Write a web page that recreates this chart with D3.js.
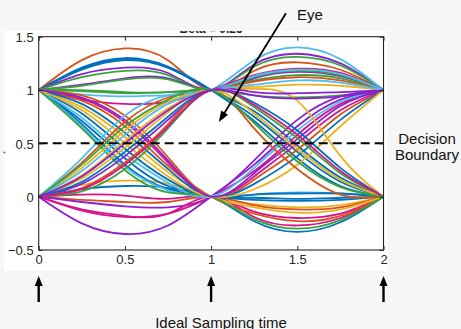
<!DOCTYPE html>
<html>
<head>
<meta charset="utf-8">
<script src="https://cdn.jsdelivr.net/npm/d3@7"></script>
<style>
  body { margin: 0; background: #f6f6f6; }
  svg { display: block; }
  text { font-family: "Liberation Sans", Arial, Helvetica, sans-serif; }
</style>
</head>
<body>
<div id="chart"></div>
<script>
/* sample instants of each trace (two symbol periods) */
var timeSteps = [0, 0.25, 0.5, 0.75, 1, 1.25, 1.5, 1.75, 2];

/* eye traces, one row per sweep */
var traceValues = [
  [1, 1.28, 1.39, 1.28, 1, 1.18, 1.26, 1.19, 1],
  [1, 1.21, 1.30, 1.22, 1, 0.71, 0.36, 0.10, 0],
  [1, 1.20, 1.29, 1.21, 1, 0.75, 0.42, 0.14, 0],
  [1, 1.19, 1.28, 1.21, 1, 0.80, 0.48, 0.18, 0],
  [1, 1.15, 1.21, 1.16, 1, 1.24, 1.34, 1.25, 1],
  [1, 1.12, 1.18, 1.14, 1, 1.22, 1.31, 1.23, 1],
  [1, 1.05, 1.11, 1.11, 1, 1.11, 1.17, 1.13, 1],
  [1, 1.04, 1.10, 1.10, 1, 1.12, 1.18, 1.14, 1],
  [1, 1.00, 0.98, 0.98, 1, 0.95, 0.93, 0.95, 1],
  [1, 0.99, 0.97, 0.98, 1, 1.09, 1.14, 1.11, 1],
  [1, 0.96, 0.94, 0.95, 1, 1.28, 1.40, 1.29, 1],
  [1, 0.91, 0.87, 0.89, 1, 1.14, 1.20, 1.16, 1],
  [0, 0.11, 0.15, 0.12, 0, -0.07, -0.10, -0.08, 0],
  [0, 0.07, 0.10, 0.08, 0, -0.01, -0.02, -0.01, 0],
  [0, 0.02, 0.01, -0.02, 0, -0.14, -0.20, -0.16, 0],
  [0, -0.03, -0.05, -0.05, 0, -0.08, -0.12, -0.10, 0],
  [0, -0.05, -0.09, -0.10, 0, 0.34, 0.72, 0.94, 1],
  [0, -0.12, -0.18, -0.16, 0, -0.19, -0.27, -0.20, 0],
  [0, -0.13, -0.19, -0.16, 0, 0.24, 0.58, 0.87, 1],
  [0, -0.25, -0.35, -0.27, 0, 0.30, 0.66, 0.91, 1],
  [1, 0.68, 0.30, 0.07, 0, -0.03, -0.04, -0.03, 0],
  [1, 0.71, 0.36, 0.10, 0, -0.23, -0.33, -0.24, 0],
  [1, 0.66, 0.28, 0.06, 0, 0.02, 0.04, 0.03, 0],
  [1, 0.78, 0.45, 0.16, 0, 0.02, 0.03, 0.03, 0],
  [1, 0.90, 0.66, 0.29, 0, -0.16, -0.23, -0.18, 0],
  [1, 0.95, 0.76, 0.37, 0, 0.16, 0.44, 0.77, 1],
  [1, 0.84, 0.56, 0.23, 0, -0.10, -0.15, -0.12, 0],
  [1, 0.74, 0.40, 0.13, 0, 0.27, 0.62, 0.89, 1],
  [1, 0.92, 0.70, 0.32, 0, 0.19, 0.50, 0.81, 1],
  [1, 0.64, 0.25, 0.04, 0, -0.21, -0.30, -0.22, 0],
  [1, 0.87, 0.60, 0.26, 0, 0.12, 0.38, 0.72, 1],
  [1, 0.81, 0.50, 0.19, 0, 0.07, 0.30, 0.66, 1],
  [1, 0.93, 0.72, 0.34, 0, 0.22, 0.54, 0.85, 1],
  [0, 0.32, 0.70, 0.93, 1, 1.08, 1.12, 1.09, 1],
  [0, 0.27, 0.62, 0.89, 1, 1.01, 0.90, 0.38, 0],
  [0, 0.36, 0.76, 0.95, 1, 1.13, 1.19, 1.15, 1],
  [0, 0.20, 0.52, 0.83, 1, 1.03, 1.05, 1.04, 1],
  [0, 0.12, 0.38, 0.72, 1, 0.98, 0.97, 0.98, 1],
  [0, 0.05, 0.26, 0.64, 1, 0.84, 0.55, 0.22, 0],
  [0, 0.08, 0.32, 0.68, 1, 0.64, 0.26, 0.02, 0],
  [0, 0.24, 0.58, 0.87, 1, 1.05, 1.09, 1.07, 1],
  [0, 0.17, 0.46, 0.79, 1, 0.78, 0.45, 0.16, 0],
  [0, 0.14, 0.42, 0.75, 1, 0.88, 0.62, 0.27, 0],
  [0, 0.07, 0.30, 0.66, 1, 0.86, 0.58, 0.24, 0],
  [0, 0.30, 0.66, 0.91, 1, 0.69, 0.33, 0.09, 0],
  [0, 0.19, 0.50, 0.81, 1, 0.95, 0.92, 0.94, 1]
];

var traceColors = [
  "orange", "blue", "blue", "blue", "purple", "green", "purple", "green",
  "green", "green", "cyan", "magenta",
  "yellow", "blue", "magenta", "orange", "purple", "magenta", "magenta", "purple",
  "blue", "blue", "cyan", "blue", "orange", "orange", "yellow", "cyan",
  "magenta", "green", "blue", "yellow", "purple",
  "orange", "yellow", "cyan", "yellow", "purple", "green", "orange", "cyan",
  "yellow", "blue", "magenta", "green", "purple"
];

var palette = {
  blue: "#0072BD", orange: "#D95319", yellow: "#EDB120", purple: "#8A22D2",
  green: "#3BA33B", cyan: "#4DBEEE", magenta: "#D6148E"
};

var xTicks = [0, 0.5, 1, 1.5, 2],
    yTicks = [-0.5, 0, 0.5, 1, 1.5];
var xDomain = [0, 2],
    yDomain = [-0.5, 1.5];
var decisionLevel = 0.5;
var samplingTimes = [0, 1, 2];
var titleText = "Beta = 0.25";
var eyeLabel = "Eye",
    eyeFrom = [1.434, 1.72],
    eyeTo = [1.045, 0.70];
var boundaryLabel = ["Decision", "Boundary"];
var samplingLabel = "Ideal Sampling time";

var W = 461, H = 329;
var axColor = "#262626";

var x = d3.scaleLinear().domain(xDomain).range([38.7, 383.5]),
    y = d3.scaleLinear().domain(yDomain).range([250, 36.7]);

var svg = d3.select("#chart").append("svg")
    .attr("width", W)
    .attr("height", H);

svg.append("rect")
    .attr("width", W).attr("height", H)
    .attr("fill", "#f6f6f6");

/* white figure panel */
var defs = svg.append("defs");
defs.append("clipPath").attr("id", "panelClip")
  .append("rect")
    .attr("x", 4).attr("y", 31)
    .attr("width", 384).attr("height", 240);
defs.append("clipPath").attr("id", "plotClip")
  .append("rect")
    .attr("x", x(0) - 2).attr("y", y(1.5))
    .attr("width", x(2) - x(0) + 4).attr("height", y(-0.5) - y(1.5));

svg.append("rect")
    .attr("x", 4).attr("y", 31)
    .attr("width", 384).attr("height", 240)
    .attr("fill", "#ffffff");

/* title, mostly hidden above the panel */
svg.append("text")
    .attr("clip-path", "url(#panelClip)")
    .attr("x", (x(0) + x(2)) / 2)
    .attr("y", 32.8)
    .attr("text-anchor", "middle")
    .attr("font-size", 12)
    .attr("font-weight", "bold")
    .attr("fill", axColor)
    .text(titleText);

/* traces */
var line = d3.line()
    .x(function(d, i) { return x(timeSteps[i]); })
    .y(function(d) { return y(d); })
    .curve(d3.curveNatural);

svg.append("g")
    .attr("clip-path", "url(#plotClip)")
  .selectAll("path")
  .data(traceValues)
  .enter().append("path")
    .attr("d", line)
    .attr("fill", "none")
    .attr("stroke", function(d, i) { return palette[traceColors[i]]; })
    .attr("stroke-width", 1.8);

/* decision boundary */
svg.append("line")
    .attr("x1", x(0)).attr("x2", x(2))
    .attr("y1", y(decisionLevel)).attr("y2", y(decisionLevel))
    .attr("stroke", "#000")
    .attr("stroke-width", 2)
    .attr("stroke-dasharray", "9,5");

/* axes box */
var gX = svg.append("g")
    .attr("transform", "translate(0," + y(-0.5) + ")")
    .call(d3.axisBottom(x).tickValues(xTicks).tickSize(-4).tickPadding(6)
      .tickFormat(d3.format("")));
var gXt = svg.append("g")
    .attr("transform", "translate(0," + y(1.5) + ")")
    .call(d3.axisTop(x).tickValues(xTicks).tickSize(-4).tickFormat(""));
var gY = svg.append("g")
    .attr("transform", "translate(" + x(0) + ",0)")
    .call(d3.axisLeft(y).tickValues(yTicks).tickSize(-4).tickPadding(5)
      .tickFormat(d3.format("")));
var gYr = svg.append("g")
    .attr("transform", "translate(" + x(2) + ",0)")
    .call(d3.axisRight(y).tickValues(yTicks).tickSize(-4).tickFormat(""));

[gX, gXt, gY, gYr].forEach(function(g) {
  g.select(".domain").remove();
  g.selectAll(".tick line").attr("stroke", axColor);
  g.selectAll(".tick text")
    .attr("fill", axColor)
    .attr("font-size", 13)
    .attr("font-family", "'Liberation Sans', Arial, Helvetica, sans-serif");
});
gX.selectAll(".tick text").attr("dy", "0.62em");
gY.selectAll(".tick text").attr("dy", "0.36em");

svg.append("rect")
    .attr("x", x(0)).attr("y", y(1.5))
    .attr("width", x(2) - x(0)).attr("height", y(-0.5) - y(1.5))
    .attr("fill", "none")
    .attr("stroke", axColor)
    .attr("stroke-width", 1.1);

/* stray mark of the clipped y label */
svg.append("circle")
    .attr("cx", 4.5).attr("cy", 152.5).attr("r", 0.9)
    .attr("fill", "#555");

/* annotations */
function arrow(x1, y1, x2, y2, width, headLen, headW) {
  var ang = Math.atan2(y2 - y1, x2 - x1),
      bx = x2 - headLen * Math.cos(ang),
      by = y2 - headLen * Math.sin(ang),
      px = -Math.sin(ang) * headW / 2,
      py = Math.cos(ang) * headW / 2;
  svg.append("line")
      .attr("x1", x1).attr("y1", y1)
      .attr("x2", bx + (x2 - bx) * 0.2).attr("y2", by + (y2 - by) * 0.2)
      .attr("stroke", "#000")
      .attr("stroke-width", width);
  svg.append("path")
      .attr("d", "M" + x2 + "," + y2 + "L" + (bx + px) + "," + (by + py) +
                 "L" + (bx - px) + "," + (by - py) + "Z")
      .attr("fill", "#000");
}

arrow(x(eyeFrom[0]), y(eyeFrom[1]), x(eyeTo[0]), y(eyeTo[1]), 1.8, 11, 8);

svg.append("text")
    .attr("x", 297).attr("y", 19.5)
    .attr("font-size", 15)
    .attr("fill", "#111")
    .text(eyeLabel);

svg.selectAll(".boundary")
  .data(boundaryLabel)
  .enter().append("text")
    .attr("class", "boundary")
    .attr("x", 427)
    .attr("y", function(d, i) { return 143.5 + i * 16; })
    .attr("text-anchor", "middle")
    .attr("font-size", 15)
    .attr("fill", "#111")
    .text(function(d) { return d; });

samplingTimes.forEach(function(t) {
  arrow(x(t), 302, x(t), 276, 2.4, 10, 8);
});

svg.append("text")
    .attr("x", 221).attr("y", 327.5)
    .attr("text-anchor", "middle")
    .attr("font-size", 15)
    .attr("fill", "#111")
    .text(samplingLabel);
</script>
</body>
</html>
